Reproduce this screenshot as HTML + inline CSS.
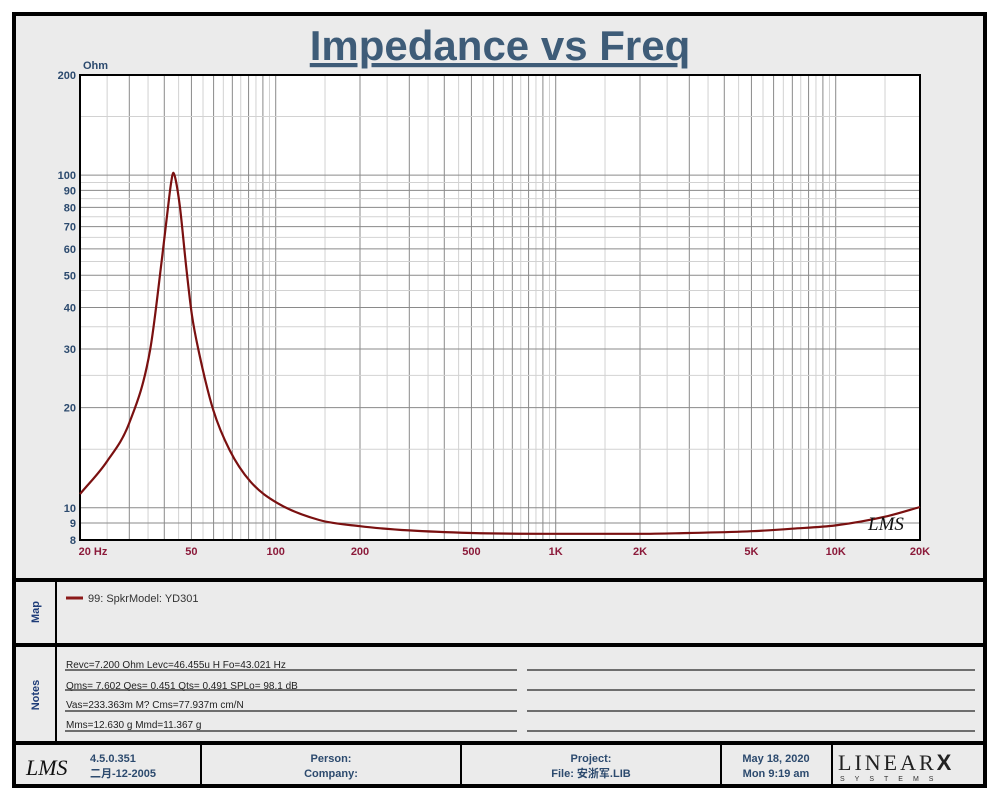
<!DOCTYPE html>
<html><head><meta charset="utf-8"><style>
body{margin:0;width:1000px;height:800px;background:#fff;font-family:"Liberation Sans","Noto Sans CJK SC",sans-serif;overflow:hidden}
</style></head><body>
<svg width="1000" height="800" xmlns="http://www.w3.org/2000/svg" font-family="Liberation Sans, Noto Sans CJK SC, sans-serif">
<rect x="14" y="14" width="971" height="772" fill="#ebebeb" stroke="#000" stroke-width="4"/>
<line x1="14" y1="580" x2="985" y2="580" stroke="#000" stroke-width="4"/>
<line x1="14" y1="645" x2="985" y2="645" stroke="#000" stroke-width="4"/>
<line x1="14" y1="743" x2="985" y2="743" stroke="#000" stroke-width="4"/>
<line x1="56" y1="580" x2="56" y2="743" stroke="#000" stroke-width="2"/>
<text x="500" y="60" text-anchor="middle" font-size="42" font-weight="bold" fill="#3e5c78" text-decoration="underline">Impedance vs Freq</text>
<rect x="80" y="75" width="840" height="465" fill="#fff"/>
<g id="grid"></g>
<rect x="80" y="75" width="840" height="465" fill="none" stroke="#000" stroke-width="2"/>
<g id="ylabels" font-size="11" font-weight="bold" fill="#2c4a6e" text-anchor="end"></g>
<g id="xlabels" font-size="11" font-weight="bold" fill="#8b1a3a" text-anchor="middle"></g>
<text x="83" y="69" font-size="11" font-weight="bold" fill="#2c4a6e">Ohm</text>
<path id="curve" fill="none" stroke="#7a1010" stroke-width="2.2"/>
<text x="868" y="530" font-size="19" font-style="italic" fill="#111" font-family="Liberation Serif, serif">LMS</text>
<text transform="translate(39,612) rotate(-90)" text-anchor="middle" font-size="11" font-weight="bold" fill="#1e3c78">Map</text>
<line x1="66" y1="598" x2="83" y2="598" stroke="#8b1a1a" stroke-width="3"/>
<text x="88" y="602" font-size="11" fill="#333">99: SpkrModel: YD301</text>
<text transform="translate(39,695) rotate(-90)" text-anchor="middle" font-size="11" font-weight="bold" fill="#1e3c78">Notes</text>
<g font-size="10" fill="#222">
<text x="66" y="668">Revc=7.200 Ohm  Levc=46.455u H  Fo=43.021 Hz</text>
<text x="66" y="689">Qms= 7.602  Qes= 0.451  Qts= 0.491   SPLo= 98.1 dB</text>
<text x="66" y="708">Vas=233.363m M? Cms=77.937m cm/N</text>
<text x="66" y="728">Mms=12.630 g  Mmd=11.367 g</text>
</g>
<g stroke="#444" stroke-width="1.5">
<line x1="65" y1="670" x2="517" y2="670"/><line x1="527" y1="670" x2="975" y2="670"/>
<line x1="65" y1="690" x2="517" y2="690"/><line x1="527" y1="690" x2="975" y2="690"/>
<line x1="65" y1="711" x2="517" y2="711"/><line x1="527" y1="711" x2="975" y2="711"/>
<line x1="65" y1="731" x2="517" y2="731"/><line x1="527" y1="731" x2="975" y2="731"/>
</g>
<g stroke="#000" stroke-width="2">
<line x1="201" y1="745" x2="201" y2="784"/><line x1="461" y1="745" x2="461" y2="784"/>
<line x1="721" y1="745" x2="721" y2="784"/><line x1="832" y1="745" x2="832" y2="784"/>
</g>
<text x="26" y="775" font-size="22" font-style="italic" font-family="Liberation Serif, serif" fill="#111">LMS</text>
<g font-size="11" font-weight="bold" fill="#2c4a6e">
<text x="90" y="762">4.5.0.351</text>
<text x="90" y="777">二月-12-2005</text>
<text x="331" y="762" text-anchor="middle">Person:</text>
<text x="331" y="777" text-anchor="middle">Company:</text>
<text x="591" y="762" text-anchor="middle">Project:</text>
<text x="591" y="777" text-anchor="middle">File: 安浙军.LIB</text>
<text x="776" y="762" text-anchor="middle">May 18, 2020</text>
<text x="776" y="777" text-anchor="middle">Mon  9:19 am</text>
</g>
<text x="838" y="770" font-size="22" font-family="Liberation Serif, serif" fill="#222" letter-spacing="3">LINEAR<tspan font-weight="bold" font-family="Liberation Sans, sans-serif">X</tspan></text>
<text x="840" y="781" font-size="7" fill="#333" letter-spacing="10">SYSTEMS</text>
</svg>
<script>
const freqs=[20,25,30,35.6,39.2,41.4,42.4,43.1,43.9,45.5,48,50.2,53.3,59.8,68.5,81.3,101.6,143,200,300,500,1000,2000,3000,5000,7000,10000,15000,20000];
const ohms=[11.0,13.8,18.0,29.8,55.6,82.3,96,101.7,97,80,52,38,29.1,19.7,14.9,11.98,10.32,9.19,8.8,8.55,8.4,8.35,8.35,8.4,8.5,8.65,8.85,9.4,10.05];
const yTicks=[8,9,10,20,30,40,50,60,70,80,90,100,200];
const xTicks=[20,50,100,200,500,1000,2000,5000,10000,20000];
const xTickLabels=['20  Hz','50','100','200','500','1K','2K','5K','10K','20K'];
const X0=80,X1=920,Y0=75,Y1=540,FMIN=20,FMAX=20000,ZMIN=8,ZMAX=200;
const xs=f=>X0+(X1-X0)*Math.log10(f/FMIN)/Math.log10(FMAX/FMIN);
const ys=z=>Y1-(Y1-Y0)*Math.log10(z/ZMIN)/Math.log10(ZMAX/ZMIN);
const NS='http://www.w3.org/2000/svg';
const grid=document.getElementById('grid');
function ln(x1,y1,x2,y2,c){const l=document.createElementNS(NS,'line');l.setAttribute('x1',x1);l.setAttribute('y1',y1);l.setAttribute('x2',x2);l.setAttribute('y2',y2);l.setAttribute('stroke',c);l.setAttribute('stroke-width',1);grid.appendChild(l);return l;}
for(let d=10;d<=10000;d*=10){for(let m=1;m<10;m+=0.5){const f=d*m;if(f<FMIN||f>FMAX)continue;const x=xs(f);
const l=ln(x,Y0,x,Y1,Number.isInteger(m)?'#8a8a8a':'#d2d2d2');

}}
for(let d=1;d<=100;d*=10){for(let m=1;m<10;m+=0.5){const z=d*m;if(z<ZMIN||z>ZMAX)continue;if(d===1&&!Number.isInteger(m))continue;const y=ys(z);
const l=ln(X0,y,X1,y,Number.isInteger(m)?'#8a8a8a':'#d2d2d2');

}}
const yl=document.getElementById('ylabels');
yTicks.forEach(v=>{const t=document.createElementNS(NS,'text');t.setAttribute('x',76);t.setAttribute('y',ys(v)+4);t.textContent=v;


yl.appendChild(t);});
const xl=document.getElementById('xlabels');
xTicks.forEach((v,i)=>{const t=document.createElementNS(NS,'text');t.setAttribute('x',xs(v)+(i===0?13:0));t.setAttribute('y',555);t.textContent=xTickLabels[i];


xl.appendChild(t);});
// monotone cubic (Fritsch-Carlson) in pixel space
const P=freqs.map((f,i)=>[xs(f),ys(ohms[i])]);
const n=P.length,dl=[],m=[];
for(let i=0;i<n-1;i++)dl.push((P[i+1][1]-P[i][1])/(P[i+1][0]-P[i][0]));
m[0]=dl[0];m[n-1]=dl[n-2];
for(let i=1;i<n-1;i++){m[i]=(dl[i-1]*dl[i]<=0)?0:(dl[i-1]+dl[i])/2;}
for(let i=0;i<n-1;i++){if(dl[i]===0){m[i]=m[i+1]=0;continue;}const a=m[i]/dl[i],b=m[i+1]/dl[i],s=a*a+b*b;if(s>9){const t=3/Math.sqrt(s);m[i]=t*a*dl[i];m[i+1]=t*b*dl[i];}}
let d='M'+P[0][0].toFixed(1)+','+P[0][1].toFixed(1);
for(let i=0;i<n-1;i++){const h=(P[i+1][0]-P[i][0])/3;
d+=' C'+(P[i][0]+h).toFixed(1)+','+(P[i][1]+m[i]*h).toFixed(1)+' '+(P[i+1][0]-h).toFixed(1)+','+(P[i+1][1]-m[i+1]*h).toFixed(1)+' '+P[i+1][0].toFixed(1)+','+P[i+1][1].toFixed(1);}
document.getElementById('curve').setAttribute('d',d);
</script>
</body></html>
